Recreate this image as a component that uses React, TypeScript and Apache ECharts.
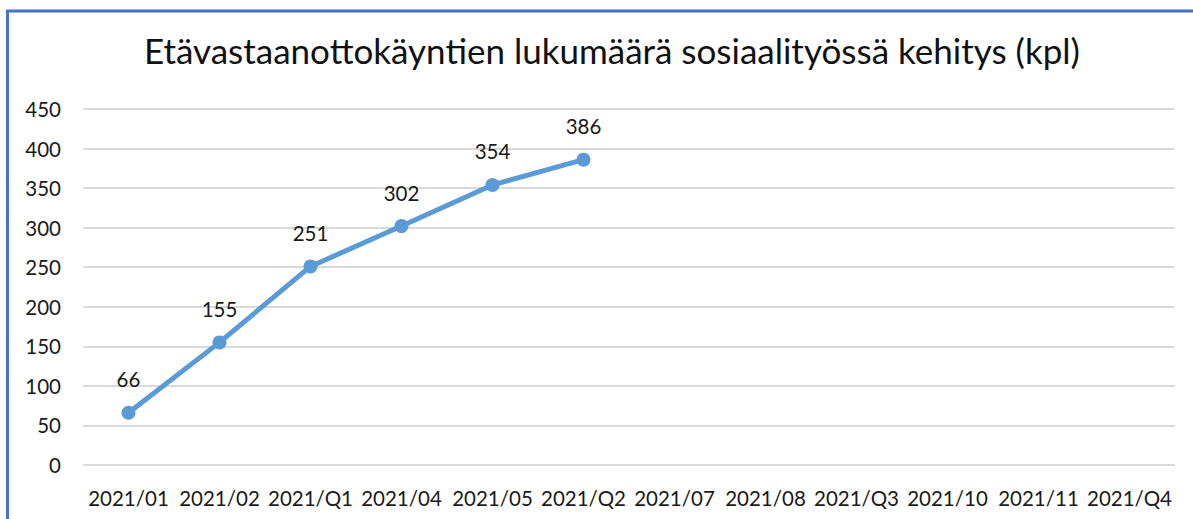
import React, { useEffect, useRef } from "react";
import * as echarts from "echarts";

const categories = ["2021/01", "2021/02", "2021/Q1", "2021/04", "2021/05", "2021/Q2", "2021/07", "2021/08", "2021/Q3", "2021/10", "2021/11", "2021/Q4"];
const values: (number | null)[] = [66, 155, 251, 302, 354, 386, null, null, null, null, null, null];
const titleText = "Etävastaanottokäyntien lukumäärä sosiaalityössä kehitys (kpl)";

const FONT = "Lato, 'Open Sans', sans-serif";

export default function App() {
  const ref = useRef<HTMLDivElement>(null);
  useEffect(() => {
    const chart = echarts.init(ref.current!, undefined, { renderer: "svg" });
    chart.setOption({
      animation: false,
      backgroundColor: "#ffffff",
      title: {
        text: titleText,
        left: 139,
        top: 27,
        textStyle: { fontFamily: FONT, fontSize: 35, fontWeight: "normal", color: "#111" },
      },
      graphic: [
        {
          type: "rect",
          shape: { x: 7.5, y: 11, width: 1300, height: 600 },
          style: { fill: "none", stroke: "#4472C4", lineWidth: 3 },
          z: 100,
        },
      ],
      grid: { left: 83, right: 18, top: 109, bottom: 54, containLabel: false },
      xAxis: {
        type: "category",
        data: categories,
        boundaryGap: true,
        axisLine: { show: false },
        axisTick: { show: false },
        axisLabel: { fontFamily: FONT, fontSize: 20.5, color: "#1a1a1a", margin: 22, interval: 0 },
      },
      yAxis: {
        type: "value",
        min: 0,
        max: 450,
        interval: 50,
        axisLine: { show: false },
        axisTick: { show: false },
        axisLabel: { fontFamily: FONT, fontSize: 20.5, color: "#1a1a1a", margin: 22 },
        splitLine: { lineStyle: { color: "#d9d9d9", width: 2 } },
      },
      series: [
        {
          type: "line",
          data: values,
          connectNulls: false,
          symbol: "circle",
          symbolSize: 14,
          itemStyle: { color: "#5B9BD5" },
          lineStyle: { color: "#5B9BD5", width: 5 },
          label: {
            show: true,
            position: "top",
            distance: 16,
            fontFamily: FONT,
            fontSize: 20.5,
            color: "#1a1a1a",
          },
        },
      ],
    });
    return () => chart.dispose();
  }, []);
  return <div ref={ref} style={{ position: "fixed", left: 0, top: 0, width: 1193, height: 519 }} />;
}
